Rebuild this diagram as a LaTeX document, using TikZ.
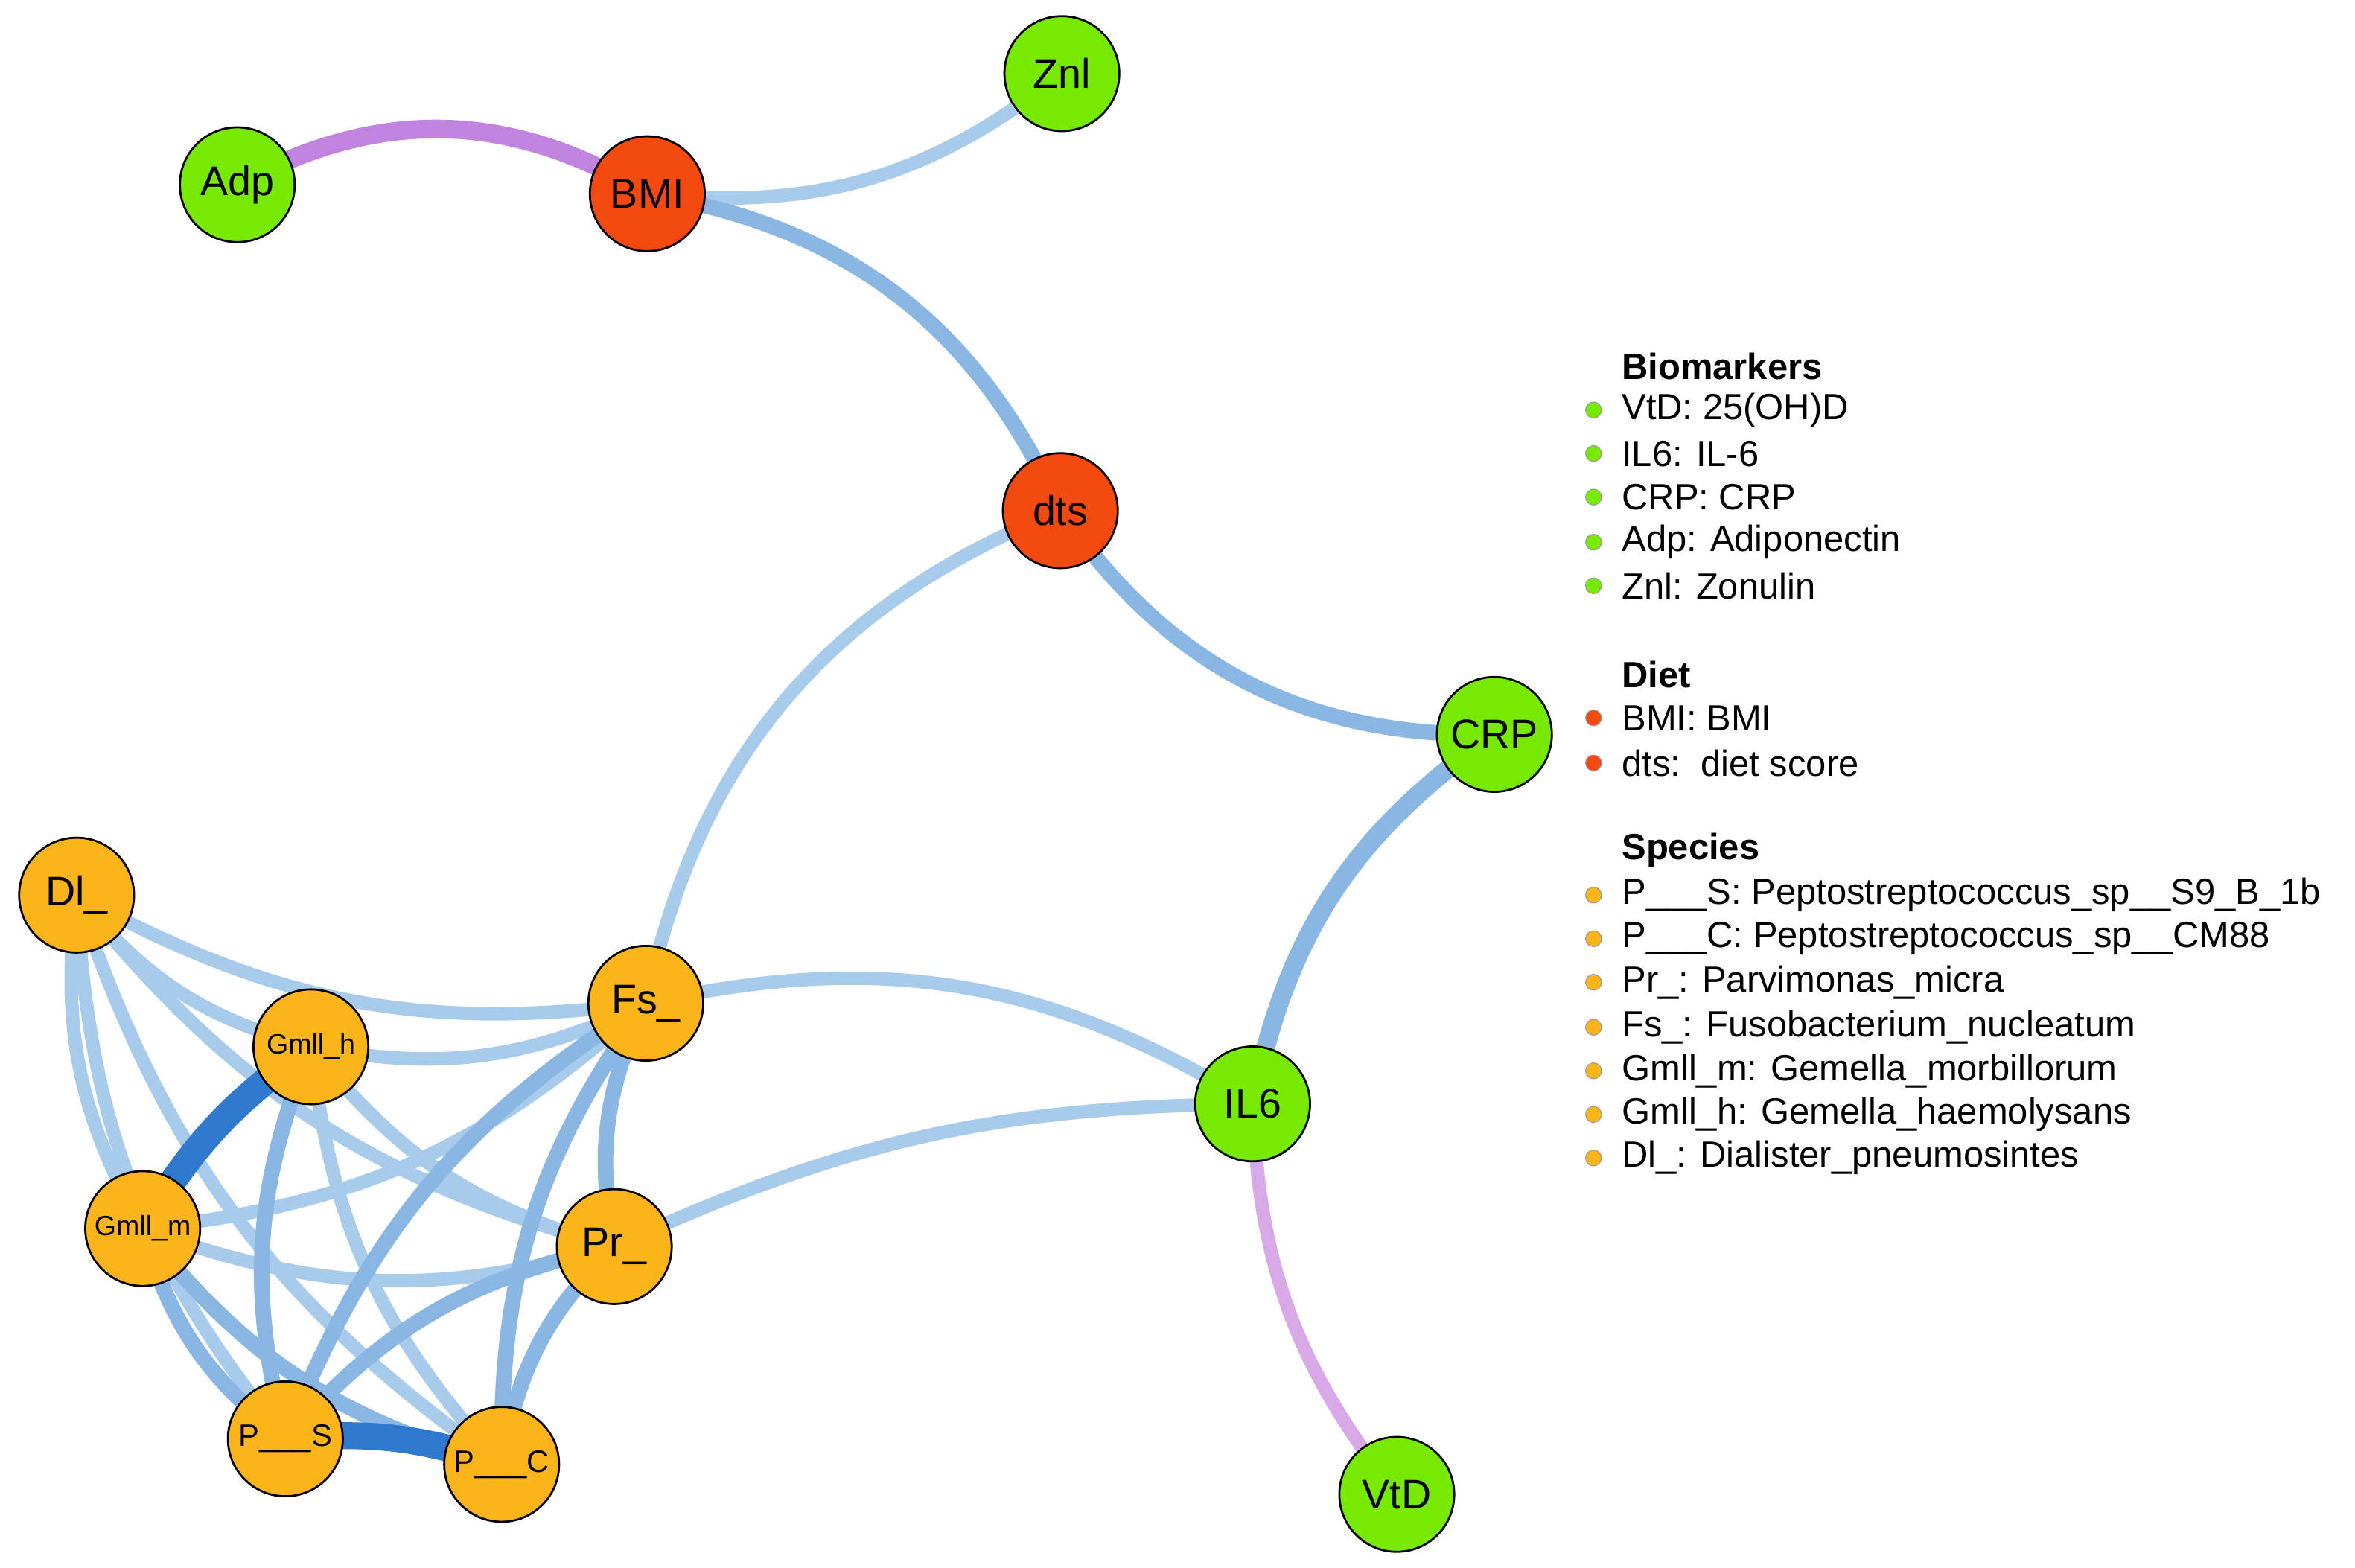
\documentclass[tikz,border=0pt]{standalone}
\usepackage{fontspec}
\setmainfont{Liberation Sans}
\begin{document}
\begin{tikzpicture}[x=0.0255cm,y=-0.0255cm,
 nd/.style={circle,draw=black,line width=1pt,minimum size=1.95cm,inner sep=0pt,font=\fontsize{20}{20}\selectfont},
 g/.style={nd,fill=gr},
 r/.style={nd,fill=rd},
 o/.style={nd,fill=og},
 sm/.style={font=\fontsize{13.5}{13.5}\selectfont},
 lb/.style={draw=lblue,line width=6.5pt},
 mb/.style={draw=mblue,line width=7.5pt},
 sb/.style={draw=sblue,line width=13pt},
 leg/.style={anchor=west,font=\fontsize{17.6}{17.6}\selectfont},
 dot/.style={circle,inner sep=0pt,minimum size=0.27cm,draw=black!40}]
\definecolor{gr}{HTML}{76EA00}
\definecolor{rd}{HTML}{F44A10}
\definecolor{og}{HTML}{FBB41A}
\definecolor{lblue}{HTML}{A8CBEC}
\definecolor{mblue}{HTML}{8AB6E4}
\definecolor{sblue}{HTML}{2F7ACF}
\definecolor{purp}{HTML}{C084E0}
\definecolor{lpurp}{HTML}{D8A8E8}
\useasboundingbox (0,0) rectangle (1568,1044);
\coordinate (cAdp) at (158,123); \coordinate (cBMI) at (431,129);
\coordinate (cZnl) at (707,49); \coordinate (cdts) at (706,340);
\coordinate (cCRP) at (995,489); \coordinate (cIL6) at (834,735);
\coordinate (cVtD) at (930,995); \coordinate (cDl) at (51,596);
\coordinate (cGh) at (207,697); \coordinate (cFs) at (430,668);
\coordinate (cGm) at (95,818); \coordinate (cPr) at (409,830);
\coordinate (cPS) at (190,958); \coordinate (cPC) at (334,975);
\draw[draw=purp,line width=9pt] (cAdp) to[bend left=30] (cBMI);
\draw[lb] (cBMI) to[bend right=22] (cZnl);
\draw[mb] (cBMI) to[bend left=28] (cdts);
\draw[mb] (cdts) to[bend right=28] (cCRP);
\draw[lb] (cdts) to[bend right=28] (cFs);
\draw[mb,line width=9pt] (cCRP) to[bend right=22] (cIL6);
\draw[draw=lpurp,line width=6.5pt] (cIL6) to[bend right=18] (cVtD);
\draw[lb] (cFs) to[bend left=22] (cIL6);
\draw[lb] (cPr) to[bend left=12] (cIL6);
\foreach \a/\b in {cDl/cGh,cDl/cFs,cDl/cGm,cDl/cPr,cDl/cPS,cDl/cPC,cGh/cFs,cGh/cPr,cGh/cPC,cGm/cPr,cGm/cFs}
  \draw[lb] (\a) to[bend right=18] (\b);
\foreach \a/\b in {cGh/cPS,cGm/cPS,cGm/cPC,cFs/cPS,cFs/cPC,cFs/cPr,cPr/cPS,cPr/cPC}
  \draw[mb] (\a) to[bend right=18] (\b);
\draw[sb] (cGh) to[bend right=12] (cGm);
\draw[sb] (cPS) to[bend left=12] (cPC);
\node[g] (Adp) at (cAdp) {Adp};
\node[r] (BMI) at (cBMI) {BMI};
\node[g] (Znl) at (cZnl) {Znl};
\node[r] (dts) at (cdts) {dts};
\node[g] (CRP) at (cCRP) {CRP};
\node[g] (IL6) at (cIL6) {IL6};
\node[g] (VtD) at (cVtD) {VtD};
\node[o] (Dl) at (cDl) {Dl\_};
\node[o,sm] (Gh) at (cGh) {Gmll\_h};
\node[o] (Fs) at (cFs) {Fs\_};
\node[o,sm] (Gm) at (cGm) {Gmll\_m};
\node[o] (Pr) at (cPr) {Pr\_};
\node[o,font=\fontsize{15}{15}\selectfont] (PS) at (cPS) {P\_\_\_S};
\node[o,font=\fontsize{15}{15}\selectfont] (PC) at (cPC) {P\_\_\_C};
\node[leg,font=\bfseries\fontsize{17.6}{17.6}\selectfont] (t1) at (1075,244) {Biomarkers};
\foreach \y/\t [count=\i] in {273/{VtD: 25(OH)D},302/{IL6: IL-6},331/{CRP: CRP},361/{Adp: Adiponectin},390/{Znl: Zonulin}}{
  \node[dot,fill=gr] (gd\i) at (1061,\y) {}; \node[leg] (gl\i) at (1075,\y) {\t};}
\node[leg,font=\bfseries\fontsize{17.6}{17.6}\selectfont] (t2) at (1075,449) {Diet};
\foreach \y/\t [count=\i] in {478/{BMI: BMI},508/{dts:\ \ diet score}}{
  \node[dot,fill=rd] (rd\i) at (1061,\y) {}; \node[leg] (rl\i) at (1075,\y) {\t};}
\node[leg,font=\bfseries\fontsize{17.6}{17.6}\selectfont] (t3) at (1075,566) {Species};
\foreach \y/\t [count=\i] in {596/{P\_\_\_S: Peptostreptococcus\_sp\_\_S9\_B\_1b},625/{P\_\_\_C: Peptostreptococcus\_sp\_\_CM88},654/{Pr\_: Parvimonas\_micra},684/{Fs\_: Fusobacterium\_nucleatum},713/{Gmll\_m: Gemella\_morbillorum},742/{Gmll\_h: Gemella\_haemolysans},771/{Dl\_: Dialister\_pneumosintes}}{
  \node[dot,fill=og] (od\i) at (1061,\y) {}; \node[leg] (ol\i) at (1075,\y) {\t};}
\end{tikzpicture}
\end{document}
